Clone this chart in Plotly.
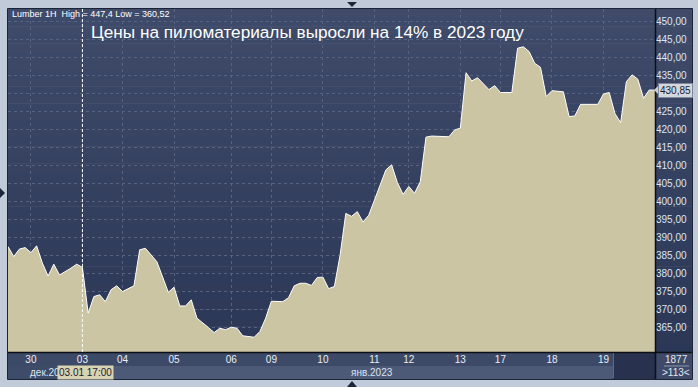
import plotly.graph_objects as go

# ---- data (hour index since start of the visible window, price) ----
hours = [0, 1, 2, 3, 4, 5, 6, 7, 8, 9, 11, 12, 13, 14, 15, 16, 17, 18, 19, 20,
         22, 23, 24, 26, 28, 29, 30, 31, 32, 33, 35, 36, 37, 38, 39, 40, 41, 43,
         44, 45, 46, 48, 49, 50, 51, 52, 53, 54, 55, 56, 57, 58, 59, 60, 61, 62,
         63, 64, 65, 66, 67, 68, 69, 70, 71, 72, 73, 74, 77, 78, 79, 80, 81, 82,
         84, 85, 86, 88, 89, 90, 91, 92, 93, 94, 95, 97, 98, 99, 100, 103, 104,
         105, 106, 107, 108, 109, 110, 111, 112, 113]
prices = [387.4, 384.6, 386.7, 387.1, 385.7, 387.6, 382.8, 379.2, 382.5, 379.5,
          381.4, 382.5, 381.6, 368.9, 373.5, 374.0, 372.1, 375.4, 376.5, 374.9,
          376.5, 386.5, 386.9, 383.2, 374.7, 376.1, 370.9, 370.9, 372.6, 367.5,
          364.9, 363.5, 364.7, 364.3, 365.0, 364.7, 362.6, 362.2, 363.8, 367.5,
          372.2, 372.1, 373.2, 376.5, 377.2, 377.2, 376.6, 378.8, 378.9, 375.7,
          376.3, 385.0, 396.6, 395.8, 397.1, 394.2, 396.1, 400.4, 404.5, 408.7,
          410.1, 405.2, 401.9, 404.1, 402.2, 405.4, 417.8, 418.1, 417.9, 419.8,
          420.3, 435.7, 433.4, 434.3, 431.0, 432.1, 430.2, 430.2, 442.5, 442.9,
          441.6, 438.3, 437.2, 429.1, 430.7, 430.4, 423.5, 423.7, 426.9, 426.9,
          429.8, 430.2, 424.4, 421.8, 433.2, 435.1, 433.9, 428.6, 430.9, 430.85]

day_ticks = [4, 13, 20, 29, 39, 46, 55, 64, 70, 79, 86, 95, 104]
day_labels = ["30", "03", "04", "05", "06", "09", "10", "11", "12", "13", "17", "18", "19"]
price_ticks = [365, 370, 375, 380, 385, 390, 395, 400, 405, 410, 415, 420,
               425, 430, 435, 440, 445, 450]
last_price = 430.85
cursor_hour = 13
# the 430,00 label is hidden behind the last-price marker in the original
price_labels = ["" if v == 430 else f"{v:.2f}".replace(".", ",") for v in price_ticks]

title = "Цены на пиломатериалы выросли на 14% в 2023 году"
info = "Lumber 1H  High = 447,4 Low = 360,52"
month_dec = "дек.20"
month_jan = "янв.2023"
cursor_label = "03.01 17:00"

W, H = 698, 387
L, R, T, B = 8, 655, 9, 352  # plot area in pixels


def px(x):
    return (x - L) / (R - L)


def py(y):
    return (B - y) / (B - T)


def lerp(c1, c2, t):
    a = [int(c1[i:i + 2], 16) for i in (1, 3, 5)]
    b = [int(c2[i:i + 2], 16) for i in (1, 3, 5)]
    return "#%02x%02x%02x" % tuple(round(a[k] + (b[k] - a[k]) * t) for k in range(3))


FONT = "Liberation Sans"
fig = go.Figure()
fig.add_trace(go.Scatter(
    x=hours, y=prices, mode="lines", fill="tozeroy",
    fillcolor="#cbc5a4", line=dict(color="#ffffff", width=1),
    hoverinfo="skip", showlegend=False))

shapes = []
# gradient background for plot + right axis panel
n = 40
for i in range(n):
    y0 = T + (B - T) * i / n
    y1 = T + (B - T) * (i + 1) / n
    c = lerp("#3f4b69", "#2b3756", i / (n - 1))
    shapes.append(dict(type="rect", xref="paper", yref="paper", layer="below",
                       x0=px(L), x1=px(692), y0=py(y0), y1=py(y1 + 0.5),
                       fillcolor=c, line=dict(width=0)))
# bottom strip
shapes += [
    dict(type="rect", xref="paper", yref="paper", layer="below",
         x0=px(L), x1=px(613), y0=py(352), y1=py(366), fillcolor="#3d4a67", line=dict(width=0)),
    dict(type="rect", xref="paper", yref="paper", layer="below",
         x0=px(L), x1=px(82), y0=py(366), y1=py(379), fillcolor="#3f4c69", line=dict(width=0)),
    dict(type="rect", xref="paper", yref="paper", layer="below",
         x0=px(82), x1=px(613), y0=py(366), y1=py(379), fillcolor="#4d5a77", line=dict(width=0)),
    dict(type="rect", xref="paper", yref="paper", layer="below",
         x0=px(613), x1=px(655), y0=py(352), y1=py(379), fillcolor="#28324e", line=dict(width=0)),
    dict(type="rect", xref="paper", yref="paper", layer="below",
         x0=px(655), x1=px(692), y0=py(352), y1=py(379), fillcolor="#3e4a67", line=dict(width=0)),
    dict(type="line", xref="paper", yref="paper", layer="above",
         x0=px(613.5), x1=px(613.5), y0=py(353), y1=py(378), line=dict(color="#5d6983", width=1)),
    dict(type="line", xref="paper", yref="paper", layer="above",
         x0=px(664), x1=px(689), y0=py(366), y1=py(366), line=dict(color="#8d98ae", width=1)),
]
# separators and frame
shapes += [
    dict(type="line", xref="paper", yref="paper", layer="above",
         x0=px(655.5), x1=px(655.5), y0=py(T), y1=py(379), line=dict(color="#0c0f16", width=1.5)),
    dict(type="line", xref="paper", yref="paper", layer="above",
         x0=px(L), x1=px(692), y0=py(352.5), y1=py(352.5), line=dict(color="#0c0f16", width=1.5)),
    dict(type="rect", xref="paper", yref="paper", layer="above",
         x0=px(7.5), x1=px(692.5), y0=py(8.5), y1=py(379.5), line=dict(color="#1b2336", width=1)),
    # cursor line
    dict(type="line", xref="x", yref="paper", layer="above",
         x0=cursor_hour, x1=cursor_hour, y0=0, y1=1,
         line=dict(color="#ffffff", width=1, dash="3px,2px")),
    # small navigation triangles
    dict(type="path", xref="paper", yref="paper", layer="above",
         path=f"M {px(347)} {py(2)} L {px(357)} {py(2)} L {px(352)} {py(7)} Z",
         fillcolor="#1c2638", line=dict(width=0)),
    dict(type="path", xref="paper", yref="paper", layer="above",
         path=f"M {px(0)} {py(188)} L {px(0)} {py(198)} L {px(5)} {py(193)} Z",
         fillcolor="#1c2638", line=dict(width=0)),
    dict(type="path", xref="paper", yref="paper", layer="above",
         path=f"M {px(347)} {py(387)} L {px(357)} {py(387)} L {px(352)} {py(381)} Z",
         fillcolor="#1c2638", line=dict(width=0)),
    # price marker pointer
    dict(type="path", xref="paper", yref="paper", layer="above",
         path=f"M {px(654)} {py(90)} L {px(658)} {py(86)} L {px(658)} {py(94)} Z",
         fillcolor="#c9ced6", line=dict(width=0)),
]

annotations = [
    dict(text=title, xref="paper", yref="paper", x=px(89), y=py(32),
         xanchor="left", yanchor="middle", showarrow=False,
         font=dict(family=FONT, size=17.2, color="#ffffff")),
    dict(text=info, xref="paper", yref="paper", x=px(10), y=py(14),
         xanchor="left", yanchor="middle", showarrow=False,
         font=dict(family=FONT, size=9, color="#ffffff")),
    dict(text=month_dec, xref="paper", yref="paper", x=px(28), y=py(372.5),
         xanchor="left", yanchor="middle", showarrow=False,
         font=dict(family=FONT, size=10, color="#dbe3f0")),
    dict(text=cursor_label, xref="paper", yref="paper", x=px(57), y=py(372.5),
         xanchor="left", yanchor="middle", showarrow=False, bgcolor="#d8d3b2",
         borderpad=1, font=dict(family=FONT, size=10, color="#1a2236")),
    dict(text=month_jan, xref="paper", yref="paper", x=px(349), y=py(372.5),
         xanchor="left", yanchor="middle", showarrow=False,
         font=dict(family=FONT, size=10, color="#dbe3f0")),
    dict(text="1877", xref="paper", yref="paper", x=px(676), y=py(359),
         xanchor="center", yanchor="middle", showarrow=False,
         font=dict(family=FONT, size=10, color="#e2e8f2")),
    dict(text=">113<", xref="paper", yref="paper", x=px(676), y=py(372.5),
         xanchor="center", yanchor="middle", showarrow=False,
         font=dict(family=FONT, size=10, color="#e2e8f2")),
    dict(text=f"{last_price:.2f}".replace(".", ","), xref="paper", yref="y",
         x=px(658), y=last_price, xanchor="left", yanchor="middle", showarrow=False,
         bgcolor="#d3d7de", bordercolor="#7f889a", borderwidth=1, borderpad=1,
         width=31, font=dict(family=FONT, size=10, color="#1a2236")),
]

fig.update_layout(
    width=W, height=H,
    margin=dict(l=L, r=W - R, t=T, b=H - B, pad=0),
    paper_bgcolor="#c1cad8", plot_bgcolor="rgba(0,0,0,0)",
    showlegend=False, hovermode=False,
    shapes=shapes, annotations=annotations,
    xaxis=dict(range=[0, 113], tickmode="array", tickvals=day_ticks, ticktext=day_labels,
               showgrid=True, gridcolor="#56627f", griddash="3px,3px", gridwidth=1,
               zeroline=False, showline=False, ticks="",
               tickfont=dict(family=FONT, size=10, color="#e8eef7"), fixedrange=True),
    yaxis=dict(range=[358.1, 453.4], side="right", tickmode="array",
               tickvals=price_ticks, ticktext=price_labels,
               showgrid=True, gridcolor="#56627f", griddash="3px,3px", gridwidth=1,
               zeroline=False, showline=False, ticks="",
               tickfont=dict(family=FONT, size=10, color="#dce6f6"), fixedrange=True),
)

fig.write_html("out.html")
